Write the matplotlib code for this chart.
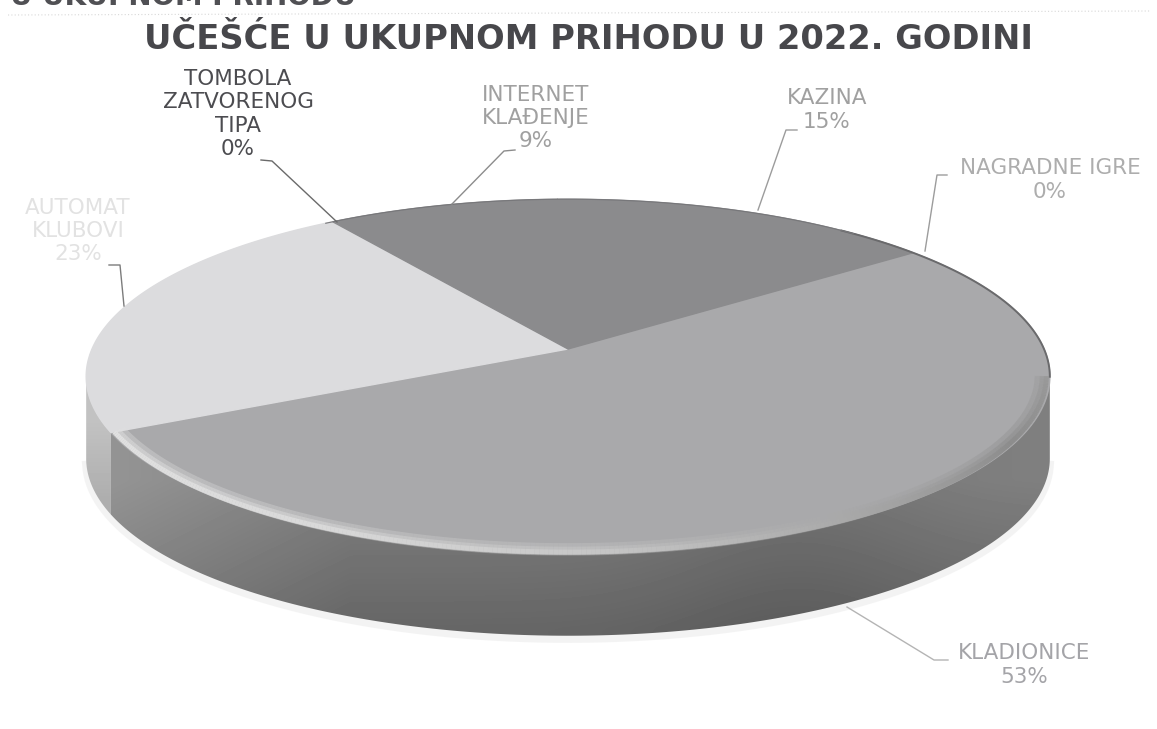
import numpy as np
import matplotlib
matplotlib.use("Agg")
import matplotlib.pyplot as plt
from matplotlib.collections import LineCollection
from matplotlib.patches import Polygon

# ---------------- DATA ----------------
kategorije = ["KLADIONICE", "AUTOMAT\nKLUBOVI", "TOMBOLA\nZATVORENOG\nTIPA",
              "INTERNET\nKLAĐENJE", "KAZINA", "NAGRADNE IGRE"]
procenti = [53, 23, 0, 9, 15, 0]
naslov = "UČEŠĆE U UKUPNOM PRIHODU U 2022. GODINI"
gornji_tekst = "U UKUPNOM PRIHODU"

# ---------------- STILE ----------------
boje = ["#a9a9ab", "#dcdcde", "#8b8b8d", "#8b8b8d", "#8b8b8d", "#a9a9ab"]
boje_teksta = ["#a4a4a8", "#e2e2e2", "#4c4c50", "#a0a0a0", "#a0a0a0", "#adadad"]
pos_teksta = [(1024, 665), (78, 231), (238, 114), (536, 118), (827, 110), (1050, 180)]
vodici = [[(847, 607), (934, 660), (948, 660)],
          [(124, 306), (120, 265), (109, 265)],
          [(337, 222), (272, 161), (261, 160)],
          [(452, 204), (504, 151), (515, 150)],
          [(758, 210), (786, 130), (797, 130)],
          [(925, 251), (937, 175), (947, 175)]]

# projekcija (perspektiva diska)
cx, cy = 568, 349
A, B, k = 476, 173, 0.155
dubina = 82
start = 37.5


def proj(theta, r=1.0):
    u = r * np.cos(np.radians(theta))
    v = r * np.sin(np.radians(theta))
    return cx + A * u / (1 + k * v), cy - B * v / (1 + k * v)


fig = plt.figure(figsize=(11.57, 7.29), dpi=100)
ax = fig.add_axes([0, 0, 1, 1])
ax.set_xlim(0, 1157)
ax.set_ylim(729, 0)
ax.axis("off")

# ---------------- KROJ ----------------
kum = np.cumsum([0] + procenti)
th1 = start - kum[:-1] * 3.6
th2 = start - kum[1:] * 3.6


# ---------------- BOCNI ZID ----------------
def zid(t_a, t_b, f_shade):
    t = np.linspace(t_a, t_b, 200)
    x, y = proj(t)
    xs = np.r_[x, x[::-1]]
    ys = np.r_[y, y[::-1] + dubina]
    p = Polygon(np.c_[xs, ys], closed=True, facecolor="none", edgecolor="none")
    ax.add_patch(p)
    gx, gy = np.meshgrid(np.linspace(80, 1060, 245), np.linspace(360, 645, 72))
    im = ax.imshow(f_shade(gx, gy), extent=(80, 1060, 645, 360), cmap="gray",
                   vmin=0, vmax=1, aspect="auto", interpolation="bilinear", zorder=2)
    im.set_clip_path(p)


def shade_klad(gx, gy):
    s = 0.50 - 0.10 * np.clip((gy - 480) / 150, 0, 1)
    s = s + 0.08 * np.clip((350 - gx) / 240, 0, 1)
    s = s - 0.04 * np.exp(-((gx - 800) / 140) ** 2)
    return s


def shade_auto(gx, gy):
    return 0.76 - 0.08 * np.clip((gy - 420) / 80, 0, 1)


# senka ispod diska
t = np.linspace(190, 350, 200)
x, y = proj(t)
ax.plot(x, y + dubina + 3, color="#efefef", lw=6, alpha=0.7, zorder=1)

# samo prednji deo zida je vidljiv
levi_rub = 180 + np.degrees(np.arcsin(k))
desni_rub = 360 - np.degrees(np.arcsin(k))
granica = th1[1] + 360
zid(levi_rub, granica, shade_auto)
zid(granica, desni_rub, shade_klad)

# ---------------- GORNJA POVRSINA ----------------
for a, b, c in zip(th1, th2, boje):
    if a == b:
        continue
    t = np.linspace(a, b, max(int(abs(a - b)) * 2, 3))
    x, y = proj(t)
    ax.fill(np.r_[cx, x], np.r_[cy, y], color=c, lw=1.0, zorder=3)

# ---------------- IVICA (bevel) ----------------
t = np.linspace(granica, desni_rub, 300)
frac = (t[:-1] - t[0]) / (t[-1] - t[0])
sv = np.interp(frac, [0, 0.25, 0.45, 0.65, 0.85, 1], [0.88, 0.85, 0.78, 0.66, 0.55, 0.60])
for r, lw, al in [(0.982, 9, 0.35), (0.988, 6, 0.5), (0.993, 3.5, 1.0)]:
    x, y = proj(t, r)
    pts = np.c_[x, y].reshape(-1, 1, 2)
    seg = np.concatenate([pts[:-1], pts[1:]], axis=1)
    lc = LineCollection(seg, colors=plt.cm.gray(sv), linewidths=lw, alpha=al, zorder=4)
    ax.add_collection(lc)

t = np.linspace(-9, 50, 80)
x, y = proj(t)
ax.plot(x, y, color="#6a6a6c", lw=1.4, zorder=4)
t = np.linspace(48, 125, 80)
x, y = proj(t)
ax.plot(x, y, color="#77777a", lw=0.8, zorder=4)

# ---------------- TESTO ----------------
ax.text(588, 39, naslov, ha="center", va="center", fontsize=24.3,
        fontweight="bold", color="#47474b")
ax.text(10, 5, gornji_tekst, ha="left", va="baseline", fontsize=20,
        fontweight="bold", color="#505054", clip_on=False)
ax.plot([8, 1150], [15, 11], color="#d8d8d8", lw=0.8, ls=(0, (1, 2)))

for nome, val, (tx, ty), col in zip(kategorije, procenti, pos_teksta, boje_teksta):
    ax.text(tx, ty, f"{nome}\n{val}%", ha="center", va="center", fontsize=15.5,
            color=col, linespacing=1.2)

for v, col in zip(vodici, ["#b4b4b4", "#7c7c7c", "#6a6a6a", "#8c8c8c", "#9c9c9c", "#9c9c9c"]):
    v = np.array(v)
    ax.plot(v[:, 0], v[:, 1], color=col, lw=1.0, zorder=5)

fig.savefig("out.png", dpi=100)
